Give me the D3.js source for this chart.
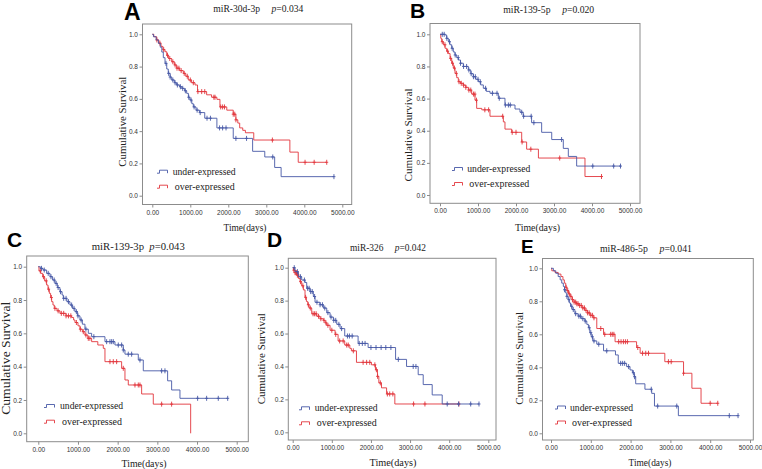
<!DOCTYPE html>
<html>
<head>
<meta charset="utf-8">
<script src="https://cdn.jsdelivr.net/npm/d3@7"></script>
<style>
body{margin:0;background:#fff}
svg{display:block}
</style>
</head>
<body>
<script>
// labels
var letters = ['A','B','C','D','E']
var genes   = ['miR-30d-3p','miR-139-5p','miR-139-3p','miR-326','miR-486-5p']
var pValues = ['0.034','0.020','0.043','0.042','0.041']
var groups  = ['under-expressed','over-expressed']
var xTicks  = [0,1000,2000,3000,4000,5000]
var yTicks  = [0,0.2,0.4,0.6,0.8,1]

// km steps [days, survival after step] and censored times
var aUnder = [[0,1],[30,0.985],[100,0.965],[160,0.944],[210,0.92],[250,0.89],[290,0.855],[335,0.82],[380,0.785],[420,0.758],[470,0.735],[510,0.717],[580,0.70],[640,0.686],[720,0.675],[780,0.665],[850,0.65],[905,0.634],[950,0.61],[990,0.593],[1040,0.57],[1080,0.55],[1150,0.53],[1240,0.515],[1380,0.48],[1700,0.42],[2130,0.355],[2640,0.275],[2960,0.24],[3220,0.175],[3390,0.118]]
var aUnderCens = [360,430,470,540,600,660,740,800,870,960,1020,1100,1180,1260,1440,1530,1770,1850,1940,2200,2480,3170,4780]
var aOver = [[0,1],[40,0.985],[115,0.965],[170,0.945],[230,0.925],[280,0.905],[334,0.892],[380,0.87],[430,0.85],[510,0.83],[580,0.81],[643,0.79],[720,0.775],[816,0.758],[880,0.74],[947,0.717],[1030,0.70],[1124,0.686],[1190,0.645],[1430,0.625],[1560,0.61],[1700,0.597],[1780,0.55],[1960,0.53],[2130,0.505],[2200,0.47],[2250,0.45],[2300,0.42],[2380,0.405],[2450,0.39],[2670,0.345],[3620,0.27],[3840,0.207]]
var aOverCens = [120,200,300,400,460,540,600,650,700,760,840,920,1000,1080,1200,1300,1380,1620,1650,1800,1850,1900,2130,2170,2200,3160,4020,4260,4590]

var bUnder = [[0,1],[130,0.996],[175,0.975],[219,0.954],[260,0.935],[307,0.913],[350,0.89],[395,0.871],[440,0.855],[482,0.84],[540,0.82],[614,0.80],[746,0.778],[810,0.755],[877,0.736],[940,0.72],[1009,0.705],[1070,0.685],[1140,0.664],[1220,0.645],[1316,0.633],[1535,0.602],[1710,0.56],[1974,0.535],[2105,0.515],[2190,0.49],[2410,0.45],[2675,0.39],[2940,0.345],[3245,0.29],[3377,0.24],[3596,0.18]]
var bUnderCens = [60,110,180,250,320,400,480,540,620,700,760,820,880,930,1000,1060,1200,1380,1500,1560,1720,1800,1850,2150,2200,2400,2470,3200,4020,4570,4750]
var bOver = [[0,1],[20,0.975],[44,0.954],[90,0.935],[132,0.913],[175,0.895],[219,0.88],[265,0.85],[307,0.82],[350,0.79],[395,0.757],[440,0.73],[482,0.705],[540,0.695],[614,0.684],[680,0.67],[746,0.653],[833,0.628],[921,0.59],[965,0.539],[1100,0.53],[1315,0.49],[1667,0.455],[1710,0.41],[1885,0.39],[2150,0.33],[2280,0.285],[2590,0.23],[3815,0.115]]
var bOverCens = [60,130,200,280,330,380,430,500,560,620,680,760,810,880,920,960,1180,1280,1650,1900,2000,2160,2390,3150,4250]

var cUnder = [[0,1],[50,0.99],[120,0.98],[210,0.96],[295,0.94],[360,0.92],[420,0.90],[480,0.875],[546,0.85],[600,0.83],[630,0.81],[720,0.79],[798,0.77],[860,0.75],[924,0.73],[990,0.705],[1050,0.68],[1110,0.655],[1176,0.625],[1260,0.60],[1344,0.58],[1680,0.55],[1932,0.53],[2142,0.50],[2184,0.475],[2520,0.44],[2646,0.375],[3259,0.315],[3360,0.26],[3570,0.21]]
var cUnderCens = [80,150,250,320,400,450,500,560,640,700,760,840,900,960,1000,1080,1200,1400,1722,1806,1848,1890,2016,2100,2142,2268,2352,2562,3108,3192,4015,4242,4536,4773]
var cOver = [[0,1],[17,0.975],[60,0.96],[110,0.94],[160,0.915],[210,0.89],[245,0.865],[278,0.84],[310,0.815],[336,0.79],[370,0.77],[403,0.75],[470,0.735],[546,0.72],[700,0.705],[840,0.695],[890,0.68],[924,0.665],[1000,0.645],[1050,0.625],[1110,0.61],[1176,0.59],[1250,0.57],[1344,0.55],[1500,0.53],[1638,0.51],[1680,0.43],[2100,0.39],[2184,0.32],[2268,0.29],[2604,0.236],[2898,0.175],[3840,0]]
var cOverCens = [50,130,200,260,330,420,500,580,640,700,760,820,960,1060,1134,1200,1260,1300,1806,1890,1974,2142,2436,2520,2562,3108,3360]

var dUnder = [[0,1],[59,0.976],[145,0.945],[230,0.925],[315,0.91],[358,0.875],[443,0.855],[528,0.825],[571,0.79],[699,0.775],[784,0.755],[870,0.727],[955,0.70],[1040,0.68],[1126,0.656],[1211,0.63],[1330,0.585],[1672,0.54],[1928,0.515],[2630,0.443],[2910,0.40],[3208,0.35],[3336,0.29],[3566,0.227],[3822,0.172]]
var dUnderCens = [40,120,200,300,380,420,460,500,560,620,700,760,820,900,980,1050,1100,1180,1250,1400,1450,1520,1700,1780,1850,2000,2130,2260,2380,2510,2700,3080,3150,3950,4240,4550,4762]
var dOver = [[0,1],[20,0.985],[60,0.97],[102,0.955],[145,0.935],[188,0.915],[230,0.89],[273,0.865],[315,0.82],[350,0.795],[384,0.775],[418,0.755],[486,0.72],[614,0.705],[699,0.69],[784,0.68],[830,0.665],[870,0.65],[955,0.62],[1083,0.595],[1160,0.555],[1330,0.53],[1460,0.51],[1500,0.495],[1630,0.425],[2013,0.41],[2116,0.38],[2167,0.34],[2202,0.30],[2270,0.27],[2400,0.233],[2611,0.172]]
var dOverCens = [30,60,80,100,120,140,200,260,330,400,450,520,560,600,660,720,800,850,900,1000,1100,1200,1290,1380,1420,1550,1800,1890,1970,2100,2140,2170,2240,2420,2480,2560,3090,3380,4250]

var eUnder = [[0,1],[60,0.985],[120,0.97],[180,0.95],[230,0.93],[270,0.91],[310,0.89],[340,0.87],[370,0.85],[400,0.83],[430,0.81],[460,0.79],[490,0.77],[530,0.75],[600,0.725],[680,0.71],[760,0.695],[850,0.68],[900,0.66],[940,0.64],[975,0.61],[1010,0.585],[1050,0.56],[1150,0.54],[1320,0.50],[1620,0.475],[1690,0.424],[1900,0.404],[1985,0.384],[2045,0.367],[2094,0.343],[2128,0.30],[2360,0.267],[2530,0.242],[2600,0.165],[3200,0.107]]
var eUnderCens = [340,400,450,520,560,620,700,740,800,860,960,1000,1040,1080,1200,1400,1750,1800,1850,1950,2070,2100,2520,2680,3160,4480,4700]
var eOver = [[0,1],[20,0.985],[100,0.975],[180,0.965],[250,0.95],[300,0.93],[335,0.91],[370,0.885],[400,0.865],[440,0.845],[480,0.83],[530,0.81],[580,0.795],[640,0.785],[700,0.775],[780,0.76],[850,0.745],[920,0.73],[980,0.715],[1060,0.70],[1150,0.635],[1320,0.60],[1610,0.555],[2150,0.52],[2240,0.485],[2860,0.434],[3330,0.364],[3540,0.273],[3770,0.182]]
var eOverCens = [380,420,460,500,540,580,620,650,680,720,760,800,840,880,920,960,1000,1040,1080,1250,1350,1500,1540,1580,1700,1760,1820,1870,1920,2180,2300,2380,2450,2950,3020,3330,4000,4190]

var curves = [
	[aUnder,aUnderCens,aOver,aOverCens],
	[bUnder,bUnderCens,bOver,bOverCens],
	[cUnder,cUnderCens,cOver,cOverCens],
	[dUnder,dUnderCens,dOver,dOverCens],
	[eUnder,eUnderCens,eOver,eOverCens]
]

// where each panel sits on the page
var layout = [
	{box:[142.5,24,351.7,204.5],x:[152.3,342.3],y:[195.7,34.3],let:[124,20,23],title:[258.3,11.5,90],xl:[245,230.5,43],yl:[121.7,121.7,90],leg:[157,171.7,186.7,172.7]},
	{box:[430,23.5,640,203.3],x:[440,630],y:[195,34.3],let:[410,17.5,21],title:[548.7,12.5,91],xl:[537.5,230.5,45],yl:[408.3,135,93],leg:[452,169,184,467.3]},
	{box:[26.7,256,248.3,441.7],x:[38.3,236.7],y:[433.3,266.7],let:[7,247,21],title:[138.3,249.5,93],xl:[144,467,45],yl:[5.5,358.3,113],leg:[44,406,421.7,60]},
	{box:[288.3,258.3,496,440],x:[292.7,488.3],y:[432.3,267.7],let:[267,247,21],title:[388,250.5,76],xl:[393,466,47],yl:[261,358.7,91],leg:[299,408.3,423.3,314.7]},
	{box:[542.5,258.5,753.3,440],x:[551,750],y:[433.3,268.3],let:[521,253,19],title:[646,251.5,92],xl:[650,466,43],yl:[519,358.3,93],leg:[555,407.5,422.5,570]}
]

var colors = ['#4658a6','#e2353c']
var serif = "'Liberation Serif', 'DejaVu Serif', serif"
var sans = "'Liberation Sans', Arial, sans-serif"

var svg = d3.select('body').append('svg').attr('width',762).attr('height',469)

function survAt(s,t){
	var i = d3.bisector(function(d){return d[0]}).right(s,t) - 1
	return s[Math.max(i,0)][1]
}

layout.forEach(function(L,i){
	var g = svg.append('g').attr('id','panel-'+letters[i])
	var b = L.box
	var x = d3.scaleLinear().domain([0,5000]).range(L.x)
	var y = d3.scaleLinear().domain([0,1]).range(L.y)

	g.append('rect').attr('x',b[0]).attr('y',b[1])
		.attr('width',b[2]-b[0]).attr('height',b[3]-b[1])
		.attr('fill','none').attr('stroke','#8c8c8c').attr('stroke-width',1)

	var ya = g.append('g').attr('transform','translate('+b[0]+',0)')
		.call(d3.axisLeft(y).tickValues(yTicks).tickFormat(d3.format('.1f')).tickSize(3).tickPadding(1.5))
	var xa = g.append('g').attr('transform','translate(0,'+b[3]+')')
		.call(d3.axisBottom(x).tickValues(xTicks).tickFormat(d3.format('.2f')).tickSize(3).tickPadding(2.5))
	;[ya,xa].forEach(function(a){
		a.select('.domain').remove()
		a.selectAll('line').attr('stroke','#8c8c8c')
		a.selectAll('text').attr('font-family',sans).attr('font-size',6.5).attr('fill','#333')
	})

	var line = d3.line().curve(d3.curveStepAfter)
		.x(function(d){return x(d[0])})
		.y(function(d){return y(d[1])})

	var cs = curves[i]
	;[[cs[2],cs[3],colors[1]],[cs[0],cs[1],colors[0]]].forEach(function(c){
		var s = c[0], cens = c[1]
		var last = s[s.length-1]
		var end = Math.max(last[0], d3.max(cens))
		g.append('path').datum(s.concat([[end,last[1]]])).attr('d',line)
			.attr('fill','none').attr('stroke',c[2]).attr('stroke-width',0.9)
		g.append('g').selectAll('path').data(cens).enter().append('path')
			.attr('d',function(t){
				var px = x(t), py = y(survAt(s,t))
				return 'M'+px+','+(py-2.5)+'V'+(py+2.5)+'M'+(px-1.5)+','+py+'H'+(px+1.5)
			})
			.attr('stroke',c[2]).attr('stroke-width',0.9).attr('fill','none')
	})

	// legend
	groups.forEach(function(name,k){
		var lx = L.leg[0], ly = L.leg[1+k]
		g.append('path').attr('d','M'+lx+','+(ly+1.5)+'h2.5V'+(ly-1.5)+'h8v3')
			.attr('fill','none').attr('stroke',colors[k]).attr('stroke-width',0.9)
		g.append('text').attr('x',L.leg[3]+k*2).attr('y',ly+3)
			.attr('font-family',serif).attr('font-size',10).attr('fill','#222')
			.attr('textLength',k==0 ? 63 : 60).attr('lengthAdjust','spacingAndGlyphs')
			.text(name)
	})

	// title
	var t = g.append('text').attr('x',L.title[0]).attr('y',L.title[1])
		.attr('text-anchor','middle').attr('font-family',serif).attr('font-size',10).attr('fill','#222')
		.attr('textLength',L.title[2]).attr('lengthAdjust','spacingAndGlyphs')
	t.append('tspan').text(genes[i])
	t.append('tspan').attr('dx',i==2 ? 5 : 12).attr('font-style','italic').text('p')
	t.append('tspan').text('='+pValues[i])

	g.append('text').attr('x',L.xl[0]).attr('y',L.xl[1]).attr('text-anchor','middle')
		.attr('font-family',serif).attr('font-size',11).attr('fill','#222')
		.attr('textLength',L.xl[2]).attr('lengthAdjust','spacingAndGlyphs')
		.text('Time(days)')

	g.append('text').attr('transform','translate('+L.yl[0]+','+L.yl[1]+') rotate(-90)')
		.attr('text-anchor','middle').attr('dy','0.35em')
		.attr('font-family',serif).attr('font-size',i==2 ? 12.5 : 11).attr('fill','#222')
		.attr('textLength',L.yl[2]).attr('lengthAdjust','spacingAndGlyphs')
		.text('Cumulative Survival')

	g.append('text').attr('x',L.let[0]).attr('y',L.let[1])
		.attr('font-family',sans).attr('font-weight','bold').attr('font-size',L.let[2]).attr('fill','#000')
		.text(letters[i])
})
</script>
</body>
</html>
